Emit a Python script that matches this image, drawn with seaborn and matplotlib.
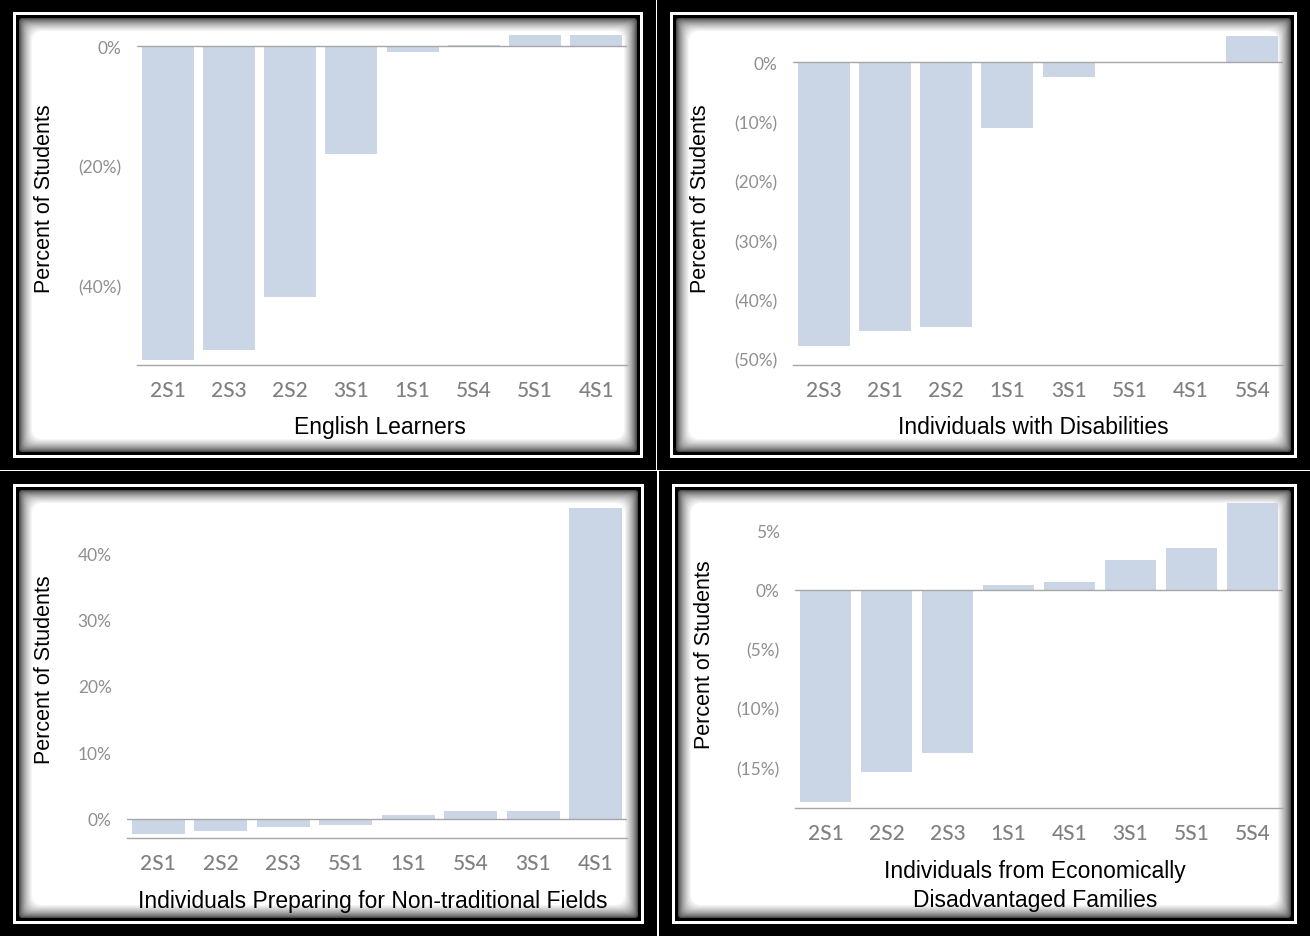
import numpy as np
import matplotlib
matplotlib.use("Agg")
import matplotlib.pyplot as plt
from matplotlib.patches import FancyBboxPatch
from matplotlib.transforms import IdentityTransform
from matplotlib.ticker import FuncFormatter, FixedLocator
import seaborn as sns

# ---------------- data ----------------
el_cats = ["2S1", "2S3", "2S2", "3S1", "1S1", "5S4", "5S1", "4S1"]
el_vals = [-52.3, -50.6, -41.7, -18.0, -0.9, 0.15, 1.9, 1.9]

dis_cats = ["2S3", "2S1", "2S2", "1S1", "3S1", "5S1", "4S1", "5S4"]
dis_vals = [-47.8, -45.3, -44.6, -11.1, -2.4, -0.1, 0.0, 4.5]

nt_cats = ["2S1", "2S2", "2S3", "5S1", "1S1", "5S4", "3S1", "4S1"]
nt_vals = [-2.3, -1.9, -1.2, -1.0, 0.5, 1.1, 1.2, 46.8]

ed_cats = ["2S1", "2S2", "2S3", "1S1", "4S1", "3S1", "5S1", "5S4"]
ed_vals = [-17.9, -15.4, -13.8, 0.4, 0.65, 2.5, 3.5, 7.3]

titles = ["English Learners",
          "Individuals with Disabilities",
          "Individuals Preparing for Non-traditional Fields",
          "Individuals from Economically\nDisadvantaged Families"]
ylabel_text = "Percent of Students"

el_ticks = [0, -20, -40]
dis_ticks = [0, -10, -20, -30, -40, -50]
nt_ticks = [0, 10, 20, 30, 40]
ed_ticks = [5, 0, -5, -10, -15]

# ---------------- style ----------------
sns.set_theme(style="white")
plt.rcParams["font.family"] = ["Liberation Sans", "DejaVu Sans"]

BAR = "#cad6e6"
TICK_GRAY = "#8f8f8f"
LINE_GRAY = "#a6a6a6"

W, H = 1310, 937
fig = plt.figure(figsize=(W / 100, H / 100), dpi=100)
fig.patch.set_facecolor("white")


def add_box(x0, y0, x1, y1, color, r=0.0, z=-10):
    p = FancyBboxPatch((x0, H - y1), x1 - x0, y1 - y0,
                       boxstyle=f"round,pad=0,rounding_size={r}",
                       transform=IdentityTransform(), facecolor=color,
                       edgecolor="none", zorder=z)
    fig.add_artist(p)


def frame(x0, y0, x1, y1):
    z = -50
    add_box(x0, y0, x1, y1, "black", 0, z)
    add_box(x0 + 13, y0 + 13, x1 - 13, y1 - 12, "white", 0, z + 1)
    add_box(x0 + 16, y0 + 16, x1 - 16, y1 - 15, "black", 0, z + 2)
    n = 14
    for i in range(n):
        t = (i + 1) / n
        g = 0.12 + 0.88 * (t ** 0.6)
        inset = 19 + i
        add_box(x0 + inset, y0 + inset, x1 - inset, y1 - inset + 1,
                (g, g, g), r=3 + i * 0.6, z=z + 3 + i)


frame(0, 0, 656, 471)
frame(657, 0, 1310, 471)
frame(0, 472, 657, 937)
frame(659, 472, 1310, 937)


def pct(v, pos):
    v = round(v)
    if v < 0:
        return f"({-v:.0f}%)"
    return f"{v:.0f}%"


panels = [
    (el_cats, el_vals, el_ticks, (137, 34, 627, 366), (-53.1, 2.2), titles[0], (380, 428), (45, 199)),
    (dis_cats, dis_vals, dis_ticks, (793, 35, 1283, 366), (-51.0, 4.8), titles[1], (1033, 428), (700, 199)),
    (nt_cats, nt_vals, nt_ticks, (127, 507, 627, 839), (-2.9, 47.1), titles[2], (373, 902), (45, 670)),
    (ed_cats, ed_vals, ed_ticks, (795, 503, 1283, 809), (-18.4, 7.4), titles[3], (1035, 886), (704, 655)),
]

for cats, vals, ticks, box, ylim, title, tpos, ypos in panels:
    l, t, r, b = box
    ax = fig.add_axes([l / W, 1 - b / H, (r - l) / W, (b - t) / H])
    ax.set_facecolor("none")
    sns.barplot(x=cats, y=vals, color=BAR, saturation=1, width=0.85,
                edgecolor="none", ax=ax)
    ax.set_xlim(-0.5, len(cats) - 0.5)
    ax.set_ylim(*ylim)
    ax.axhline(0, color=LINE_GRAY, lw=1.0, zorder=3)
    for s in ["top", "right", "left"]:
        ax.spines[s].set_visible(False)
    ax.spines["bottom"].set_color(LINE_GRAY)
    ax.spines["bottom"].set_linewidth(1.0)
    ax.yaxis.set_major_locator(FixedLocator(ticks))
    ax.yaxis.set_major_formatter(FuncFormatter(pct))
    ax.tick_params(axis="y", length=0, pad=11, labelcolor=TICK_GRAY, labelsize=12.5)
    ax.tick_params(axis="x", length=0, pad=11, labelcolor="#808080", labelsize=15)
    for lab in ax.get_yticklabels():
        lab.set_fontfamily(["Lato", "DejaVu Sans"])
        lab.set_fontweight("normal")
    for lab in ax.get_xticklabels():
        lab.set_fontfamily(["Lato", "DejaVu Sans"])
        lab.set_fontweight("medium")
    ax.set_xlabel(title, fontsize=16.5, color="black", ha="center", va="center",
                  linespacing=1.3)
    ax.xaxis.set_label_coords(tpos[0] / W, 1 - tpos[1] / H, transform=fig.transFigure)
    ax.set_ylabel(ylabel_text, fontsize=15.5, color="black", ha="center", va="center")
    ax.yaxis.set_label_coords(ypos[0] / W, 1 - ypos[1] / H, transform=fig.transFigure)

fig.savefig("out.png", dpi=100)
